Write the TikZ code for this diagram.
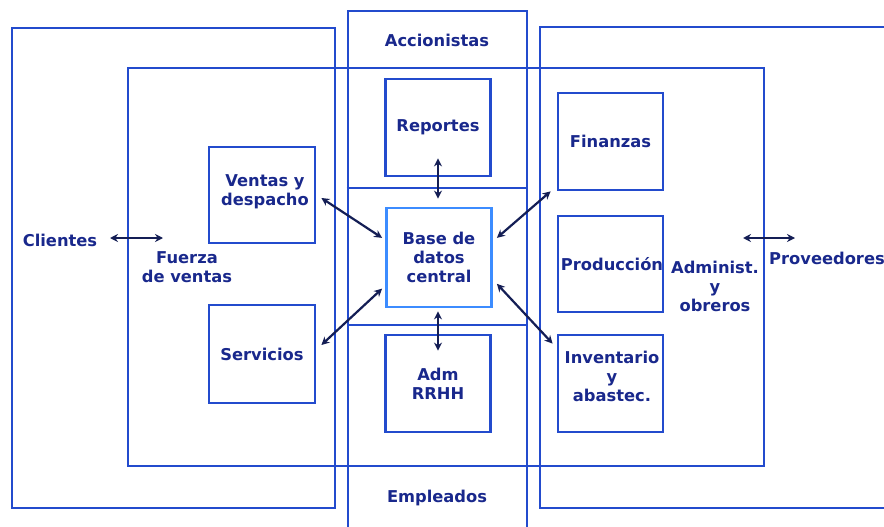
\documentclass[tikz,border=0pt]{standalone}
\usepackage{fontspec}
\setmainfont{DejaVu Sans}
\usetikzlibrary{arrows.meta, positioning}
\definecolor{frameblue}{RGB}{35,75,205}
\definecolor{baseblue}{RGB}{60,140,255}
\definecolor{textnavy}{RGB}{25,40,140}
\definecolor{arrownavy}{RGB}{20,30,85}

\begin{document}
\begin{tikzpicture}[x=1pt, y=-1pt,   % define the looks here
    area/.style={
        draw=frameblue,
        line width=2.8pt,
        rectangle,
        inner sep=0pt
    },
    unit/.style={
        draw=frameblue,
        fill=white,
        line width=2.8pt,
        rectangle,
        inner sep=0pt,
        minimum width=105pt,
        minimum height=97pt,
        align=center,
        text=textnavy,
        font=\fontsize{16.3}{19}\selectfont\bfseries
    },
    lbl/.style={
        inner sep=1pt,
        align=center,
        text=textnavy,
        font=\fontsize{16.3}{19}\selectfont\bfseries
    },
    link/.style={
        draw=arrownavy,
        line width=2.2pt,
        {Stealth[length=8pt,width=8pt]}-{Stealth[length=8pt,width=8pt]}
    }
]
    \useasboundingbox (0,0) rectangle (884,527);

    % 1. The areas
    \node [area, minimum width=323pt, minimum height=480pt] (clientesArea) at (173.5,268) {};
    \node [area, minimum width=360pt, minimum height=481pt] (proveedoresArea) at (720,267.5) {};
    \node [area, minimum width=179pt, minimum height=524pt] (columna) at (437.5,273) {};
    \node [area, minimum width=636pt, minimum height=398pt] (empresa) at (446,267) {};
    \draw [frameblue, line width=2.8pt] (columna.west |- 0,188) -- (columna.east |- 0,188);
    \draw [frameblue, line width=2.8pt] (columna.west |- 0,325) -- (columna.east |- 0,325);

    % 2. The units
    \node [unit] (reportes) at (438,127.5) {Reportes};
    \node [unit, draw=baseblue, minimum height=99pt] (base) at (439,257.5) {Base de\\datos\\central};
    \node [unit] (rrhh) at (438,383.5) {Adm\\RRHH};
    \node [unit, minimum width=106pt, minimum height=96pt] (ventas) at (262,195) {};
    \node [lbl] at (265,192) {Ventas y\\despacho};
    \node [unit, minimum width=106pt, minimum height=98pt] (servicios) at (262,354) {Servicios};
    \node [unit] (finanzas) at (610.5,141.5) {Finanzas};
    \node [unit, minimum height=96pt] (produccion) at (610.5,264) {};
    \node [lbl] at (612,264) {Producción};
    \node [unit] (inventario) at (610.5,383.5) {};
    \node [lbl] at (612,376) {Inventario\\y\\abastec.};

    % 3. The labels
    \node [lbl] (accionistas) at (437,40) {Accionistas};
    \node [lbl] (empleados) at (437,498) {Empleados};
    \node [lbl] (clientes) at (60,240) {Clientes};
    \node [lbl] (fuerza) at (187,267) {Fuerza\\de ventas};
    \node [lbl] (administ) at (715,286) {Administ.\\y\\obreros};
    \node [lbl, anchor=west] (proveedores) at (768,258) {Proveedores};

    % The Connections
    \coordinate (clientesIn) at (110,238);
    \coordinate (clientesOut) at (163,238);
    \coordinate (proveedoresIn) at (743,238);
    \coordinate (proveedoresOut) at (795,238);
    \draw [link] (clientesIn) -- (clientesOut);
    \draw [link] (proveedoresIn) -- (proveedoresOut);

    \draw [link] ([yshift=19pt]reportes.south) -- ([yshift=8pt]reportes.south |- base.north);
    \draw [link] ([yshift=-3pt]rrhh.north |- base.south) -- ([yshift=-17pt]rrhh.north);
    \draw [link] ([xshift=5pt,yshift=-3pt]ventas.east) -- ([xshift=-3pt]base.160);
    \draw [link] ([xshift=5pt,yshift=9pt]servicios.east) -- ([xshift=-3pt]base.210);
    \draw [link] ([xshift=-6pt]finanzas.south west) -- ([xshift=4pt]base.20);
    \draw [link] ([xshift=-4pt,yshift=-10pt]inventario.north west) -- ([xshift=4pt]base.334);

\end{tikzpicture}
\end{document}
